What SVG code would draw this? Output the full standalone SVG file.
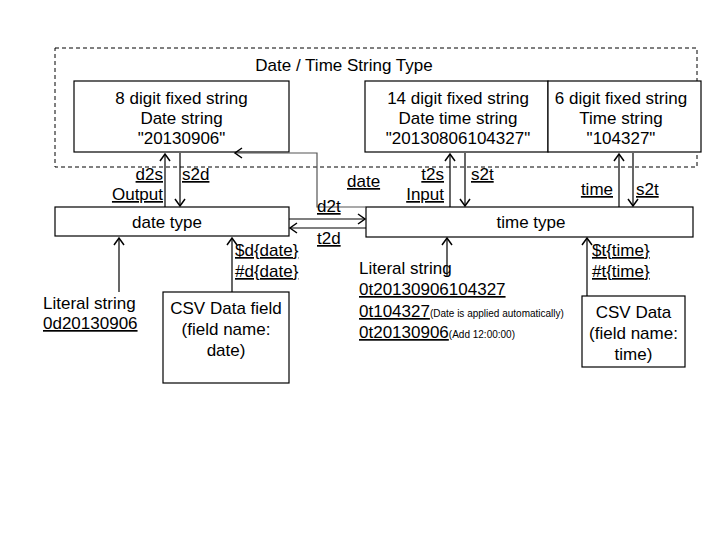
<svg xmlns="http://www.w3.org/2000/svg" width="720" height="540" viewBox="0 0 720 540">
<style>
text{font-family:"Liberation Sans",Arial,sans-serif;font-size:17px;fill:#000}
.c{text-anchor:middle}
.e{text-anchor:end}
.u{text-decoration:underline}
.s{font-size:10px}
.box{fill:#fff;stroke:#000;stroke-width:1.2}
.ln{stroke:#000;stroke-width:1.2;fill:none;marker-end:url(#ah)}
.gl{stroke:#555;stroke-width:1.2;fill:none;marker-end:url(#ah)}
</style>
<defs>
<marker id="ah" markerUnits="userSpaceOnUse" markerWidth="14" markerHeight="14" refX="0" refY="0" viewBox="-8 -7 10 14" orient="auto">
<path d="M-7,-5 L0,0 L-7,5" fill="none" stroke="#000" stroke-width="1.5"/>
</marker>
</defs>
<rect x="55" y="48" width="642" height="119" fill="none" stroke="#000" stroke-width="1" stroke-dasharray="4,3"/>
<text class="c" x="344" y="71">Date / Time String Type</text>
<g id="datestr">
<rect class="box" x="74" y="81" width="215" height="71"/>
<text class="c" x="181.5" y="104">8 digit fixed string</text>
<text class="c" x="181.5" y="124">Date string</text>
<text class="c" x="181.5" y="144">"20130906"</text>
</g>
<g id="datetimestr">
<rect class="box" x="365" y="81" width="183" height="71"/>
<text class="c" x="458" y="104">14 digit fixed string</text>
<text class="c" x="458" y="124">Date time string</text>
<text class="c" x="458" y="144">"20130806104327"</text>
</g>
<g id="timestr">
<rect class="box" x="548" y="81" width="153" height="71"/>
<text class="c" x="621" y="104">6 digit fixed string</text>
<text class="c" x="621" y="124">Time string</text>
<text class="c" x="621" y="144">"104327"</text>
</g>
<g id="datetype">
<rect class="box" x="55" y="207" width="234" height="29"/>
<text class="c" x="167" y="228">date type</text>
</g>
<g id="timetype">
<rect class="box" x="366" y="207" width="327" height="30"/>
<text class="c" x="531" y="228">time type</text>
</g>
<g id="csvdate">
<rect class="box" x="163" y="292" width="126" height="91"/>
<text class="c" x="226" y="314">CSV Data field</text>
<text class="c" x="226" y="335">(field name:</text>
<text class="c" x="226" y="356">date)</text>
</g>
<g id="csvtime">
<rect class="box" x="582" y="296" width="103" height="71"/>
<text class="c" x="633.5" y="318">CSV Data</text>
<text class="c" x="633.5" y="339">(field name:</text>
<text class="c" x="633.5" y="360">time)</text>
</g>
<g id="litdate">
<text x="43" y="309">Literal string</text>
<text class="u" x="43" y="329">0d20130906</text>
</g>
<g id="littime">
<text x="359" y="274">Literal string</text>
<text class="u" x="359" y="295">0t20130906104327</text>
<text x="359" y="317"><tspan class="u">0t104327</tspan><tspan class="s">(Date is applied automatically)</tspan></text>
<text x="359" y="338"><tspan class="u">0t20130906</tspan><tspan class="s">(Add 12:00:00)</tspan></text>
</g>
<g id="connectors">
<line class="ln" x1="165" y1="207" x2="165" y2="154"/>
<line class="ln" x1="180" y1="153" x2="180" y2="206"/>
<path class="gl" d="M366,207 H317 V153 H235"/>
<line class="ln" x1="289" y1="219" x2="365" y2="219"/>
<line class="ln" x1="366" y1="228" x2="290" y2="228"/>
<line class="ln" x1="450" y1="207" x2="450" y2="154"/>
<line class="ln" x1="465" y1="153" x2="465" y2="206"/>
<line class="ln" x1="619" y1="207" x2="619" y2="154"/>
<line class="ln" x1="633" y1="153" x2="633" y2="206"/>
<line class="ln" x1="119" y1="292" x2="119" y2="238"/>
<line class="ln" x1="232" y1="292" x2="232" y2="238"/>
<line class="ln" x1="447" y1="276" x2="447" y2="238"/>
<line class="ln" x1="587" y1="296" x2="587" y2="238"/>
<text class="u e" x="163" y="180">d2s</text>
<text class="u" x="182" y="180">s2d</text>
<text class="u e" x="163" y="200">Output</text>
<text class="u" x="347" y="187">date</text>
<text class="u e" x="444" y="180">t2s</text>
<text class="u e" x="444" y="200">Input</text>
<text class="u" x="471" y="180">s2t</text>
<text class="u e" x="613" y="195">time</text>
<text class="u" x="636" y="195">s2t</text>
<text class="u" x="317" y="212">d2t</text>
<text class="u" x="317" y="244">t2d</text>
<text class="u" x="235" y="256">$d{date}</text>
<text class="u" x="235" y="277">#d{date}</text>
<text class="u" x="592" y="256">$t{time}</text>
<text class="u" x="592" y="277">#t{time}</text>
</g>
</svg>
